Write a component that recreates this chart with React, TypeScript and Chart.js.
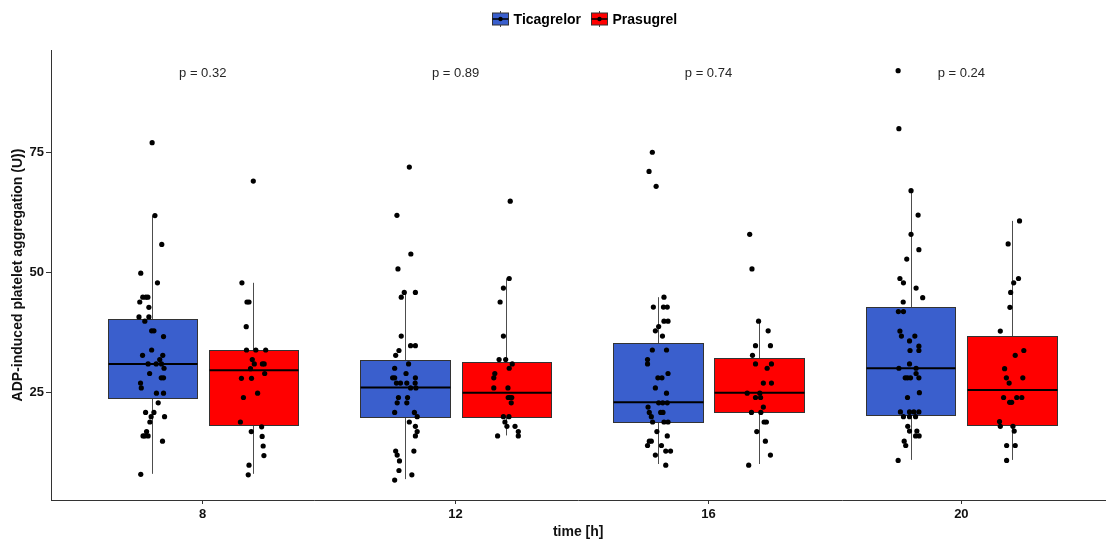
import React, { useEffect, useRef } from 'react';
import { Chart, registerables } from 'chart.js';

Chart.register(...registerables);

// ---------------- data ----------------
const categories = ['8', '12', '16', '20'];
const seriesNames = ['Ticagrelor', 'Prasugrel'];
const seriesColors = ['#3A5FCD', '#FF0000'];
const pLabels = ['p = 0.32', 'p = 0.89', 'p = 0.74', 'p = 0.24'];
const pLabelValue = 90.7;
const yTicks = [25, 50, 75];

// box statistics (Ticagrelor)
const ticaLow = [8.1, 7.0, 10.15, 11.0];
const ticaQ1 = [24.0, 20.0, 18.9, 20.35];
const ticaMedian = [31.0, 26.1, 23.0, 30.1];
const ticaQ3 = [40.35, 31.8, 35.35, 42.8];
const ticaHigh = [61.9, 45.9, 44.9, 67.1];

// box statistics (Prasugrel)
const prasLow = [8.1, 16.1, 10.15, 11.0];
const prasQ1 = [18.2, 20.0, 20.9, 18.2];
const prasMedian = [29.7, 25.0, 25.0, 25.55];
const prasQ3 = [33.9, 31.5, 32.2, 36.75];
const prasHigh = [47.9, 48.8, 39.9, 60.8];

// observations: [jitter offset from box centre (category units), value]
const tica8: [number, number][] = [
  [0.0, 77.1], [0.011, 61.9], [0.038, 55.9], [-0.045, 49.9], [0.021, 47.9], [-0.037, 44.9],
  [-0.025, 44.9], [-0.017, 44.9], [-0.049, 43.9], [-0.013, 42.8], [-0.052, 40.8], [-0.013, 40.8],
  [-0.029, 39.9], [-0.002, 37.9], [0.007, 37.9], [0.045, 36.7], [-0.002, 33.9], [-0.038, 32.8],
  [0.042, 32.8], [0.03, 31.9], [-0.016, 31.0], [0.016, 31.0], [0.037, 31.0], [0.047, 30.1],
  [-0.01, 29.0], [0.036, 28.1], [0.045, 28.1], [-0.046, 27.0], [-0.043, 26.0], [0.017, 24.9],
  [0.045, 24.9], [0.024, 22.9], [-0.026, 20.9], [0.007, 20.9], [0.049, 20.0], [-0.004, 20.0],
  [-0.009, 18.9], [-0.022, 16.9], [-0.036, 16.0], [-0.029, 16.0], [-0.016, 16.0], [0.041, 14.9],
  [-0.045, 8.0],
];
const tica12: [number, number][] = [
  [0.017, 72.0], [-0.032, 61.95], [0.023, 53.9], [-0.028, 50.8], [-0.003, 45.9], [0.041, 45.9],
  [-0.015, 44.9], [-0.015, 36.8], [0.022, 34.8], [0.041, 34.8], [-0.024, 33.8], [-0.037, 32.8],
  [0.014, 31.0], [-0.041, 30.1], [0.004, 29.0], [-0.049, 28.1], [-0.041, 28.1], [0.041, 28.1],
  [-0.034, 27.0], [-0.018, 27.0], [0.007, 27.0], [0.04, 27.0], [0.022, 26.0], [0.043, 26.0],
  [-0.026, 24.0], [0.01, 24.0], [-0.031, 22.9], [0.007, 22.9], [-0.041, 20.9], [0.037, 20.9],
  [0.048, 20.0], [0.017, 18.9], [0.041, 18.0], [0.048, 16.9], [0.041, 16.0], [-0.037, 12.85],
  [0.035, 12.85], [-0.031, 12.0], [-0.022, 10.8], [-0.024, 8.8], [0.027, 7.9], [-0.041, 6.8],
];
const tica16: [number, number][] = [
  [-0.022, 75.1], [-0.035, 71.1], [-0.007, 68.0], [0.024, 44.9], [-0.018, 42.85], [0.022, 42.85],
  [0.037, 42.85], [0.024, 39.9], [0.04, 39.9], [0.003, 38.8], [-0.01, 37.9], [0.018, 36.8],
  [-0.022, 33.9], [0.034, 33.9], [-0.041, 31.9], [-0.041, 31.0], [0.04, 29.0], [0.0, 28.1],
  [0.016, 28.1], [-0.01, 26.0], [0.034, 24.9], [0.003, 22.9], [0.019, 22.9], [0.037, 22.9],
  [-0.039, 22.0], [-0.034, 20.9], [0.011, 20.9], [0.02, 20.9], [-0.026, 20.0], [-0.021, 18.9],
  [0.024, 18.9], [0.04, 18.9], [-0.004, 16.9], [0.037, 16.0], [-0.034, 14.9], [-0.026, 14.9],
  [-0.041, 14.0], [0.014, 14.0], [0.031, 12.85], [0.05, 12.85], [-0.01, 12.0], [0.031, 9.9],
];
const tica20: [number, number][] = [
  [-0.05, 92.1], [-0.047, 80.0], [0.001, 67.1], [0.029, 62.0], [0.001, 58.0], [0.032, 54.8],
  [-0.016, 52.85], [-0.043, 48.8], [-0.029, 47.9], [0.021, 46.8], [0.047, 44.8], [-0.03, 43.9],
  [-0.049, 41.9], [-0.029, 41.9], [-0.043, 37.85], [-0.037, 36.8], [0.016, 36.8], [-0.005, 35.8],
  [0.032, 34.7], [-0.003, 33.8], [0.032, 33.8], [-0.005, 31.0], [-0.047, 30.1], [0.021, 30.1],
  [0.021, 29.0], [-0.022, 28.1], [-0.013, 28.1], [-0.001, 28.1], [0.032, 28.1], [0.034, 25.0],
  [-0.013, 24.0], [-0.041, 21.0], [-0.005, 21.0], [0.012, 21.0], [0.032, 21.0], [-0.029, 20.0],
  [-0.005, 20.0], [0.019, 20.0], [-0.012, 18.0], [-0.005, 17.0], [0.024, 17.0], [0.019, 16.0],
  [0.033, 16.0], [-0.026, 14.9], [-0.02, 14.0], [-0.05, 10.9],
];

const pras8: [number, number][] = [
  [0.0, 69.1], [-0.045, 47.9], [-0.025, 43.9], [-0.017, 43.9], [-0.028, 38.75], [-0.027, 33.9],
  [0.01, 33.9], [0.049, 33.9], [-0.004, 31.9], [0.004, 31.0], [0.036, 31.0], [0.043, 31.0],
  [-0.011, 30.0], [0.045, 29.0], [-0.047, 28.0], [-0.007, 28.0], [0.017, 24.9], [-0.039, 24.0],
  [-0.051, 18.9], [0.033, 17.9], [-0.008, 16.9], [0.035, 15.9], [0.039, 13.9], [0.042, 11.9],
  [-0.017, 9.9], [-0.02, 7.9],
];
const pras12: [number, number][] = [
  [0.016, 64.9], [0.012, 48.8], [-0.011, 46.8], [-0.024, 43.9], [-0.011, 36.8], [-0.028, 31.9],
  [-0.002, 31.9], [0.024, 31.0], [0.012, 30.1], [-0.045, 29.0], [-0.049, 28.1], [-0.049, 26.0],
  [0.007, 26.0], [0.008, 24.0], [0.014, 24.0], [0.022, 24.0], [0.02, 22.9], [-0.011, 20.0],
  [0.011, 20.0], [-0.005, 18.9], [0.003, 18.0], [0.035, 18.0], [0.048, 16.9], [-0.034, 16.0],
  [0.048, 16.0],
];
const pras16: [number, number][] = [
  [-0.037, 58.0], [-0.028, 50.8], [-0.002, 39.9], [0.036, 37.9], [-0.014, 34.8], [0.045, 34.8],
  [-0.026, 32.8], [-0.014, 31.0], [0.049, 31.0], [0.032, 30.1], [0.017, 27.0], [0.049, 27.0],
  [-0.047, 24.9], [0.003, 24.9], [-0.014, 24.0], [0.006, 24.0], [0.017, 22.0], [-0.03, 20.9],
  [0.007, 20.9], [0.02, 18.9], [0.029, 18.9], [-0.009, 16.9], [0.025, 14.9], [0.045, 12.0],
  [-0.041, 9.9],
];
const pras20: [number, number][] = [
  [0.03, 60.8], [-0.015, 56.0], [0.026, 48.8], [0.007, 47.9], [-0.005, 45.9], [-0.008, 42.8],
  [-0.046, 37.85], [0.047, 33.8], [0.013, 32.8], [-0.029, 30.0], [-0.022, 28.1], [0.043, 28.1],
  [-0.011, 27.0], [-0.033, 24.0], [0.019, 24.0], [0.039, 24.0], [-0.009, 23.0], [-0.001, 23.0],
  [-0.049, 19.0], [-0.046, 18.0], [0.004, 18.0], [0.009, 17.0], [-0.021, 14.0], [0.013, 14.0],
  [-0.021, 10.9],
];

// ---------------- assembled tables ----------------
const boxStats = [
  { low: ticaLow, q1: ticaQ1, median: ticaMedian, q3: ticaQ3, high: ticaHigh },
  { low: prasLow, q1: prasQ1, median: prasMedian, q3: prasQ3, high: prasHigh },
];
const observations = [
  [tica8, tica12, tica16, tica20],
  [pras8, pras12, pras16, pras20],
];

// layout constants
const DODGE = 0.2;
const BOX_WIDTH = 0.353;
const FONT = '"Liberation Sans", Arial, Helvetica, sans-serif';

const seriesOffset = (s: number) => (s === 0 ? -DODGE : DODGE);

const boxPlugin = {
  id: 'ggBoxes',
  beforeDatasetsDraw(chart: any) {
    const { ctx, scales } = chart;
    const xs = scales.x;
    const ys = scales.y;
    ctx.save();
    boxStats.forEach((st, s) => {
      categories.forEach((_, i) => {
        const c = i + 1 + seriesOffset(s);
        const cx = Math.round(xs.getPixelForValue(c)) + 0.5;
        const l = Math.round(xs.getPixelForValue(c - BOX_WIDTH / 2)) + 0.5;
        const r = Math.round(xs.getPixelForValue(c + BOX_WIDTH / 2)) + 0.5;
        const yLow = ys.getPixelForValue(st.low[i]);
        const yHigh = ys.getPixelForValue(st.high[i]);
        const yq1 = Math.round(ys.getPixelForValue(st.q1[i])) + 0.5;
        const yq3 = Math.round(ys.getPixelForValue(st.q3[i])) + 0.5;
        const yMed = ys.getPixelForValue(st.median[i]);
        // whiskers
        ctx.strokeStyle = '#4d4d4d';
        ctx.lineWidth = 1;
        ctx.beginPath();
        ctx.moveTo(cx, yHigh);
        ctx.lineTo(cx, yq3);
        ctx.moveTo(cx, yq1);
        ctx.lineTo(cx, yLow);
        ctx.stroke();
        // box
        ctx.fillStyle = seriesColors[s];
        ctx.fillRect(l, yq3, r - l, yq1 - yq3);
        ctx.strokeStyle = '#333333';
        ctx.strokeRect(l, yq3, r - l, yq1 - yq3);
        // median
        ctx.strokeStyle = '#000000';
        ctx.lineWidth = 2;
        ctx.beginPath();
        ctx.moveTo(l, yMed);
        ctx.lineTo(r, yMed);
        ctx.stroke();
      });
    });
    ctx.restore();
  },
  afterDraw(chart: any) {
    const { ctx, scales } = chart;
    const xs = scales.x;
    const ys = scales.y;
    ctx.save();
    // p-value labels
    ctx.font = `13px ${FONT}`;
    ctx.fillStyle = '#262626';
    ctx.textAlign = 'center';
    ctx.textBaseline = 'alphabetic';
    pLabels.forEach((t, i) => {
      ctx.fillText(t, xs.getPixelForValue(i + 1), ys.getPixelForValue(pLabelValue));
    });

    // legend
    ctx.font = `bold 14px ${FONT}`;
    const keyW = 16;
    const gapKeyText = 5.5;
    const gapItems = 10;
    const widths = seriesNames.map((n) => ctx.measureText(n).width);
    const total = widths.reduce((a, w) => a + keyW + gapKeyText + w, 0) + gapItems * (seriesNames.length - 1);
    const centre = 584.6;
    let x0 = centre - total / 2;
    const midY = 19;
    seriesNames.forEach((name, s) => {
      const kx = Math.round(x0) + 0.5;
      // whisker
      ctx.strokeStyle = '#4d4d4d';
      ctx.lineWidth = 1;
      ctx.beginPath();
      ctx.moveTo(kx + keyW / 2, midY - 8);
      ctx.lineTo(kx + keyW / 2, midY + 8);
      ctx.stroke();
      // box
      ctx.fillStyle = seriesColors[s];
      ctx.fillRect(kx, midY - 6, keyW, 12);
      ctx.strokeStyle = '#333333';
      ctx.strokeRect(kx, midY - 6, keyW, 12);
      // median
      ctx.strokeStyle = '#000';
      ctx.lineWidth = 1.5;
      ctx.beginPath();
      ctx.moveTo(kx, midY);
      ctx.lineTo(kx + keyW, midY);
      ctx.stroke();
      // point
      ctx.fillStyle = '#000';
      ctx.beginPath();
      ctx.arc(kx + keyW / 2, midY, 2.2, 0, Math.PI * 2);
      ctx.fill();
      // text
      ctx.fillStyle = '#000';
      ctx.textAlign = 'left';
      ctx.textBaseline = 'alphabetic';
      ctx.fillText(name, x0 + keyW + gapKeyText, 24);
      x0 += keyW + gapKeyText + widths[s] + gapItems;
    });
    ctx.restore();
  },
};

export default function App() {
  const canvasRef = useRef<HTMLCanvasElement | null>(null);

  useEffect(() => {
    document.body.style.margin = '0';
    const canvas = canvasRef.current;
    if (!canvas) return;

    const datasets = seriesNames.map((name, s) => ({
      label: name,
      data: observations[s].flatMap((grp, i) =>
        grp.map(([off, v]) => ({ x: i + 1 + seriesOffset(s) + off, y: v }))
      ),
      backgroundColor: '#000000',
      borderColor: '#000000',
      borderWidth: 0,
      pointRadius: 2.6,
      pointHoverRadius: 2.6,
    }));

    const chart = new Chart(canvas, {
      type: 'scatter',
      data: { datasets },
      plugins: [boxPlugin],
      options: {
        animation: false,
        responsive: false,
        devicePixelRatio: 1,
        layout: { padding: { top: 50, left: 0, right: 0, bottom: 0 } },
        plugins: {
          legend: { display: false },
          tooltip: { enabled: false },
        },
        scales: {
          x: {
            type: 'linear',
            min: 0.4,
            max: 4.5696,
            afterFit: (scale: any) => {
              scale.height = 43;
            },
            afterBuildTicks: (scale: any) => {
              scale.ticks = categories.map((_, i) => ({ value: i + 1 }));
            },
            ticks: {
              autoSkip: false,
              maxRotation: 0,
              padding: 3,
              color: '#111111',
              font: { family: FONT, size: 13, weight: 'bold' },
              callback: (v: any) => categories[Number(v) - 1] ?? '',
            },
            grid: {
              display: true,
              drawOnChartArea: false,
              drawTicks: true,
              tickLength: 4,
              color: '#333333',
            },
            border: { display: true, color: '#333333', width: 1 },
            title: {
              display: true,
              text: 'time [h]',
              color: '#111111',
              font: { family: FONT, size: 14, weight: 'bold', lineHeight: 1.2 },
              padding: { top: 0, bottom: 2 },
            },
          },
          y: {
            type: 'linear',
            min: 2.65,
            max: 96.4,
            afterFit: (scale: any) => {
              scale.width = 51;
            },
            afterBuildTicks: (scale: any) => {
              scale.ticks = yTicks.map((v) => ({ value: v }));
            },
            ticks: {
              padding: 2,
              color: '#111111',
              font: { family: FONT, size: 13, weight: 'bold' },
            },
            grid: {
              display: true,
              drawOnChartArea: false,
              drawTicks: true,
              tickLength: 5,
              color: '#333333',
            },
            border: { display: true, color: '#333333', width: 1 },
            title: {
              display: true,
              text: 'ADP-induced platelet aggregation (U))',
              color: '#111111',
              font: { family: FONT, size: 14, weight: 'bold', lineHeight: 1.2 },
              padding: { top: 10, bottom: 0 },
            },
          },
        },
      } as any,
    });

    return () => chart.destroy();
  }, []);

  return (
    <div style={{ position: 'fixed', left: 0, top: 0, width: 1108, height: 543, background: '#ffffff' }}>
      <canvas ref={canvasRef} width={1108} height={543} style={{ width: 1108, height: 543 }} />
    </div>
  );
}
